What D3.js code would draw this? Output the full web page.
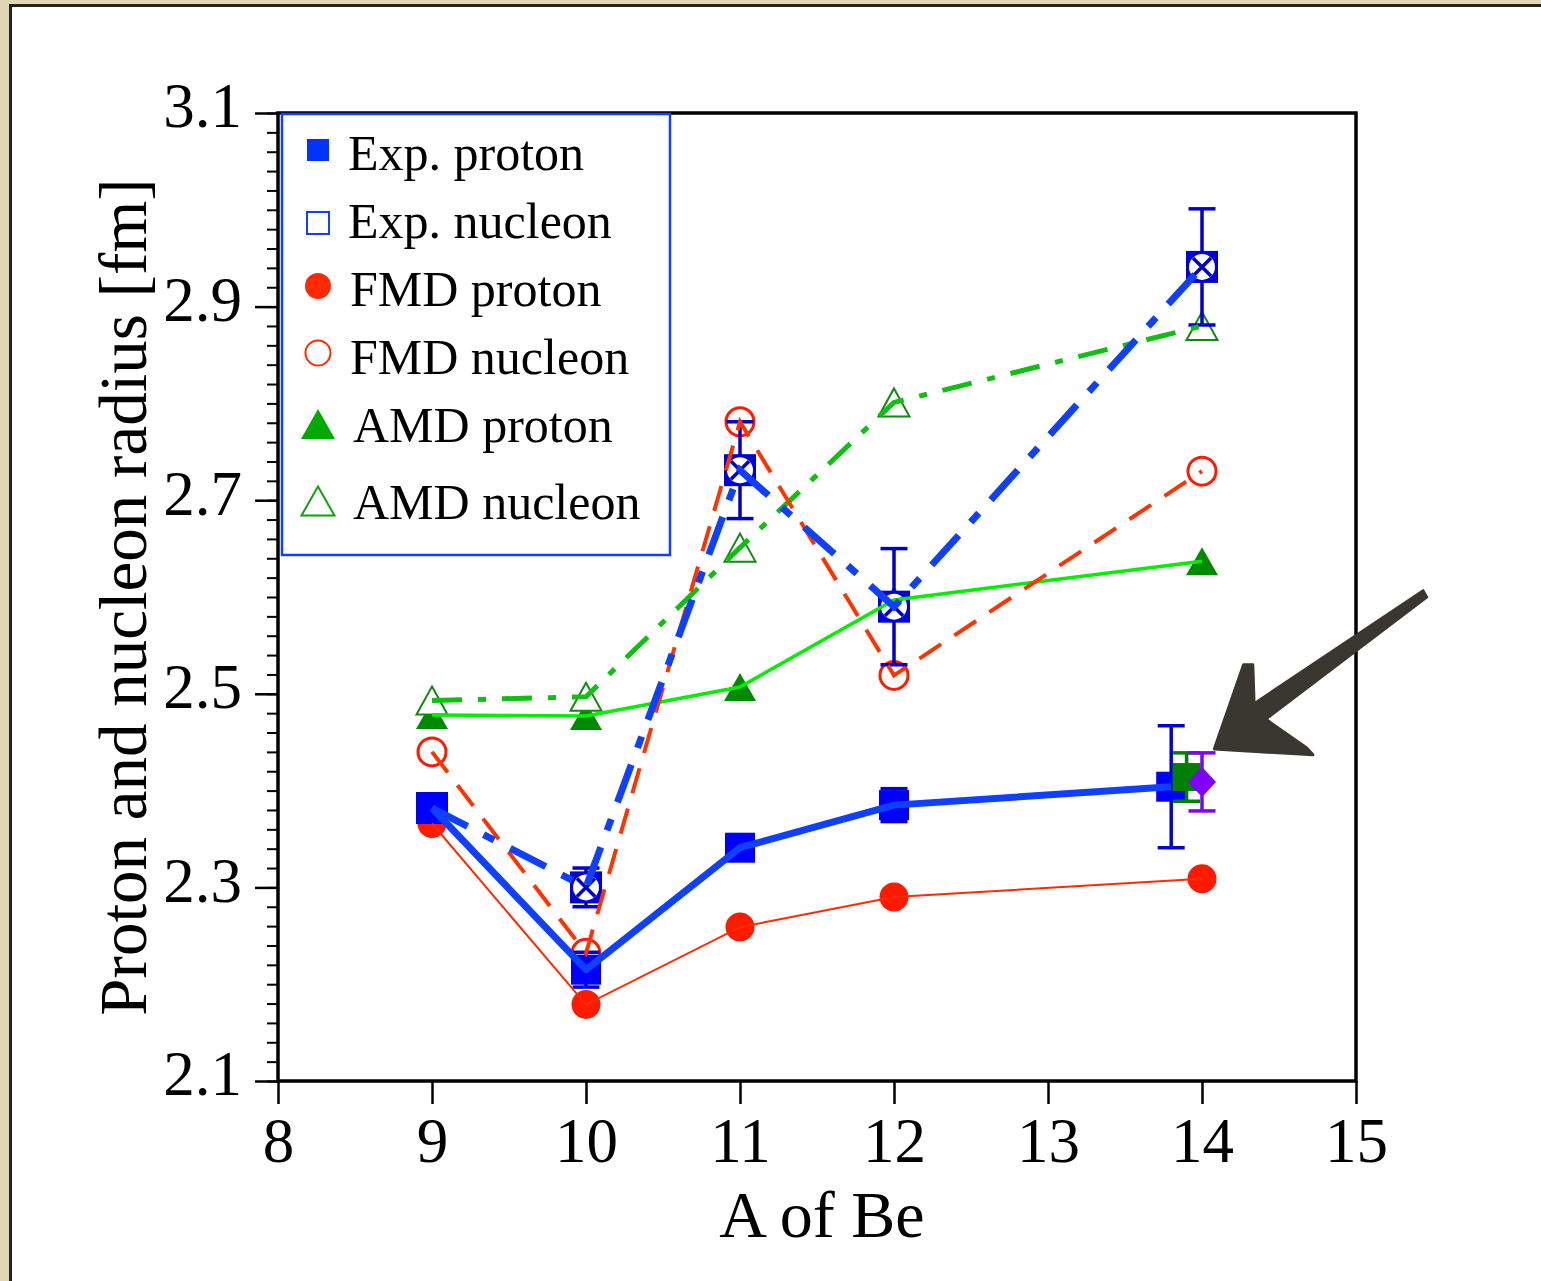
<!DOCTYPE html>
<meta charset="utf-8">
<style>
  body { margin: 0; background: #e1d6b6; }
  text { font-family: "Liberation Serif", "Times New Roman", serif; fill: #000; }
</style>
<body>
<script src="https://d3js.org/d3.v7.min.js"></script>
<script>
  // values
  var massNumbers = [9, 10, 11, 12, 14];
  var expProtonA = [9, 10, 11, 12, 13.8];
  var expProton = [2.382, 2.215, 2.341, 2.385, 2.404];
  var expProtonErr = [0.01, 0.018, 0.012, 0.017, 0.063];
  var expNucleon = [2.382, 2.300, 2.731, 2.590, 2.941];
  var expNucleonErr = [0.012, 0.02, 0.05, 0.06, 0.06];
  var fmdProton = [2.366, 2.179, 2.259, 2.290, 2.309];
  var fmdNucleon = [2.440, 2.232, 2.781, 2.519, 2.730];
  var amdProton = [2.478, 2.477, 2.507, 2.597, 2.637];
  var amdNucleon = [2.493, 2.497, 2.651, 2.801, 2.88];
  // the two extra 14Be points near the arrow
  var extraA = [13.9, 14.0];
  var extraValue = [2.414, 2.409];
  var extraErr = [0.025, 0.03];

  var xTicks = [8, 9, 10, 11, 12, 13, 14, 15];
  var yTicks = [2.1, 2.3, 2.5, 2.7, 2.9, 3.1];
  var legendLabels = ["Exp. proton", "Exp. nucleon", "FMD proton", "FMD nucleon", "AMD proton", "AMD nucleon"];

  var width = 1541, height = 1281;

  var x = d3.scaleLinear().domain([8, 15]).range([278, 1356]);
  var y = d3.scaleLinear().domain([2.1, 3.1]).range([1081, 113]);

  var svg = d3.select("body").append("svg")
    .attr("width", width)
    .attr("height", height)
    .style("display", "block");

  // beige frame and white sheet
  svg.append("rect").attr("width", width).attr("height", height).attr("fill", "#e1d6b6");
  svg.append("rect").attr("x", 10.5).attr("y", 5.5).attr("width", width).attr("height", height)
    .attr("fill", "#fff").attr("stroke", "#222").attr("stroke-width", 3);

  function pts(xs, ys) {
    return xs.map(function(d, i) { return [d, ys[i]]; });
  }

  var line = d3.line()
    .x(function(d) { return x(d[0]); })
    .y(function(d) { return y(d[1]); });

  var marks = svg.append("g");
  var lines = svg.append("g");

  // error bars
  function errorBars(xs, ys, es, color, cap, sw) {
    var g = marks.append("g").attr("stroke", color).attr("stroke-width", sw);
    xs.forEach(function(a, i) {
      var cx = x(a), y0 = y(ys[i] - es[i]), y1 = y(ys[i] + es[i]);
      g.append("line").attr("x1", cx).attr("x2", cx).attr("y1", y0).attr("y2", y1);
      g.append("line").attr("x1", cx - cap / 2).attr("x2", cx + cap / 2).attr("y1", y0).attr("y2", y0);
      g.append("line").attr("x1", cx - cap / 2).attr("x2", cx + cap / 2).attr("y1", y1).attr("y2", y1);
    });
  }

  function triPath(cx, cy, w, h) {
    return "M" + cx + "," + (cy - h / 2) + "L" + (cx + w / 2) + "," + (cy + h / 2) +
      "L" + (cx - w / 2) + "," + (cy + h / 2) + "Z";
  }

  // AMD proton: filled triangles
  marks.selectAll(".amdp").data(pts(massNumbers, amdProton)).enter().append("path")
    .attr("d", function(d) { return triPath(x(d[0]), y(d[1]), 32, 28); })
    .attr("fill", "#008a00");

  // AMD nucleon: open triangles
  marks.selectAll(".amdn").data(pts(massNumbers, amdNucleon)).enter().append("path")
    .attr("d", function(d) { return triPath(x(d[0]), y(d[1]), 31, 28); })
    .attr("fill", "#fff").attr("stroke", "#108a10").attr("stroke-width", 2);

  // FMD proton: filled circles
  marks.selectAll(".fmdp").data(pts(massNumbers, fmdProton)).enter().append("circle")
    .attr("cx", function(d) { return x(d[0]); })
    .attr("cy", function(d) { return y(d[1]); })
    .attr("r", 14.5).attr("fill", "#ff1a00");

  // FMD nucleon: open circles
  marks.selectAll(".fmdn").data(pts(massNumbers, fmdNucleon)).enter().append("circle")
    .attr("cx", function(d) { return x(d[0]); })
    .attr("cy", function(d) { return y(d[1]); })
    .attr("r", 14).attr("fill", "none").attr("stroke", "#ff1a00").attr("stroke-width", 3);

  // Exp. nucleon: square with crossed circle
  errorBars(massNumbers, expNucleon, expNucleonErr, "#0000cc", 27, 3.5);
  var en = marks.selectAll(".expn").data(pts(massNumbers, expNucleon)).enter().append("g")
    .attr("transform", function(d) { return "translate(" + x(d[0]) + "," + y(d[1]) + ")"; });
  en.append("rect").attr("x", -16).attr("y", -16).attr("width", 32).attr("height", 32).attr("fill", "#0000d8");
  en.append("circle").attr("r", 13).attr("fill", "#fff");
  en.append("path").attr("d", "M-9,-9L9,9M9,-9L-9,9").attr("stroke", "#0000cc").attr("stroke-width", 3.5);

  // Exp. proton: filled squares
  errorBars(expProtonA, expProton, expProtonErr, "#0000dd", 27, 3.5);
  marks.selectAll(".expp").data(pts(expProtonA, expProton)).enter().append("rect")
    .attr("x", function(d) { return x(d[0]) - 15; })
    .attr("y", function(d) { return y(d[1]) - 15; })
    .attr("width", 30).attr("height", 30).attr("fill", "#0000ff");

  // extra points: green square and purple diamond
  errorBars([extraA[0]], [extraValue[0]], [extraErr[0]], "#007f00", 27, 3.5);
  marks.append("rect")
    .attr("x", x(extraA[0]) - 14).attr("y", y(extraValue[0]) - 14)
    .attr("width", 28).attr("height", 28).attr("fill", "#007f00");
  errorBars([extraA[1]], [extraValue[1]], [extraErr[1]], "#7f00ff", 27, 3.5);
  marks.append("path")
    .attr("transform", "translate(" + x(extraA[1]) + "," + y(extraValue[1]) + ")")
    .attr("d", "M0,-15L14,0L0,15L-14,0Z").attr("fill", "#7f00ff");

  // lines on top of the markers
  lines.append("path").datum(pts(massNumbers, amdNucleon)).attr("d", line)
    .attr("fill", "none").attr("stroke", "#10c010").attr("stroke-width", 5)
    .attr("stroke-dasharray", "30,16,8,16");
  lines.append("path").datum(pts(massNumbers, amdProton)).attr("d", line)
    .attr("fill", "none").attr("stroke", "#00ee00").attr("stroke-width", 3.5);
  lines.append("path").datum(pts(massNumbers, fmdProton)).attr("d", line)
    .attr("fill", "none").attr("stroke", "#ff2a00").attr("stroke-width", 2);
  lines.append("path").datum(pts(massNumbers, fmdNucleon)).attr("d", line)
    .attr("fill", "none").attr("stroke", "#ff3300").attr("stroke-width", 4)
    .attr("stroke-dasharray", "26,16");
  lines.append("path").datum(pts(massNumbers, expNucleon)).attr("d", line)
    .attr("fill", "none").attr("stroke", "#1040ff").attr("stroke-width", 7)
    .attr("stroke-dasharray", "40,18,12,18");
  lines.append("path").datum(pts(expProtonA, expProton)).attr("d", line)
    .attr("fill", "none").attr("stroke", "#1040ff").attr("stroke-width", 7)
    .attr("stroke-linejoin", "round");

  // axes
  var yMinor = d3.range(2.1, 3.1001, 0.02);
  var yAxisMinor = d3.axisLeft(y).tickValues(yMinor).tickSize(11).tickFormat("");
  svg.append("g").attr("transform", "translate(" + x(8) + ",0)").call(yAxisMinor)
    .call(function(g) { g.select(".domain").remove(); g.selectAll("line").attr("stroke-width", 2); });

  var yAxis = d3.axisLeft(y).tickValues(yTicks).tickSize(23).tickPadding(13)
    .tickFormat(d3.format(".1f"));
  svg.append("g").attr("transform", "translate(" + x(8) + ",0)").call(yAxis)
    .call(function(g) {
      g.select(".domain").remove();
      g.selectAll("line").attr("stroke-width", 2.5);
      g.selectAll("text").attr("font-size", 63).attr("dy", "0.22em")
        .style("font-family", "'Liberation Serif', serif");
    });

  var xAxis = d3.axisBottom(x).tickValues(xTicks).tickSize(23).tickPadding(13)
    .tickFormat(d3.format("d"));
  svg.append("g").attr("transform", "translate(0," + y(2.1) + ")").call(xAxis)
    .call(function(g) {
      g.select(".domain").remove();
      g.selectAll("line").attr("stroke-width", 2.5);
      g.selectAll("text").attr("font-size", 63).attr("dy", "0.72em")
        .style("font-family", "'Liberation Serif', serif");
    });

  // plot frame
  svg.append("rect")
    .attr("x", x(8)).attr("y", y(3.1))
    .attr("width", x(15) - x(8)).attr("height", y(2.1) - y(3.1))
    .attr("fill", "none").attr("stroke", "#000").attr("stroke-width", 3.5);

  // legend
  var legend = svg.append("g");
  legend.append("rect").attr("x", 282).attr("y", 114).attr("width", 388).attr("height", 441)
    .attr("fill", "#fff").attr("stroke", "#1040ff").attr("stroke-width", 2.5);
  var rowY = [153, 221, 289, 357, 425, 502];
  var lx = 318;
  legend.append("rect").attr("x", lx - 11).attr("y", rowY[0] - 14).attr("width", 22).attr("height", 22).attr("fill", "#0033ff");
  legend.append("rect").attr("x", lx - 11).attr("y", rowY[1] - 9).attr("width", 22).attr("height", 22)
    .attr("fill", "none").attr("stroke", "#1040ff").attr("stroke-width", 2);
  legend.append("circle").attr("cx", lx).attr("cy", rowY[2] - 3).attr("r", 13).attr("fill", "#ff2a00");
  legend.append("circle").attr("cx", lx).attr("cy", rowY[3] - 4).attr("r", 12.5)
    .attr("fill", "none").attr("stroke", "#ff2a00").attr("stroke-width", 2);
  legend.append("path").attr("d", triPath(lx, rowY[4] - 1, 34, 30)).attr("fill", "#00aa00");
  legend.append("path").attr("d", triPath(lx, rowY[5] - 1, 33, 29))
    .attr("fill", "none").attr("stroke", "#10a010").attr("stroke-width", 2);
  legend.selectAll(".lab").data(legendLabels).enter().append("text")
    .attr("x", function(d, i) { return i < 2 ? 348 : (i < 4 ? 350 : 353); })
    .attr("y", function(d, i) { return rowY[i] + 17; })
    .attr("font-size", 50)
    .text(function(d) { return d; });

  // axis titles
  svg.append("text").attr("x", (x(8) + x(15)) / 2 + 5).attr("y", 1237)
    .attr("text-anchor", "middle").attr("font-size", 66).text("A of Be");
  svg.append("text")
    .attr("transform", "translate(146," + 597 + ") rotate(-90)")
    .attr("text-anchor", "middle").attr("font-size", 67).text("Proton and nucleon radius [fm]");

  // hand-drawn arrow pointing at the 14Be points
  var arrow = svg.append("g").attr("fill", "#3a3730").attr("stroke", "#3a3730").attr("stroke-linejoin", "round");
  function P(a, v) { return [x(a), y(v)]; }
  var tail = P(15.45, 2.604), neck = P(14.32, 2.476);
  var head = [P(14.08, 2.443), P(14.27, 2.530), P(14.33, 2.530), P(14.34, 2.482),
    P(14.68, 2.444), P(14.72, 2.437)];
  arrow.append("path").attr("d", d3.line()(head) + "Z").attr("stroke-width", 3);
  var nx = neck[0], ny = neck[1], tx = tail[0], ty = tail[1];
  arrow.append("path")
    .attr("d", "M" + (nx - 3) + "," + (ny - 10) + "L" + (tx - 2) + "," + (ty - 3) + "L" + (tx + 2) + "," + (ty + 4) +
      "L" + (nx + 5) + "," + (ny + 10) + "Z")
    .attr("stroke-width", 2);
  arrow.append("path")
    .attr("d", "M" + (nx + 10) + "," + (ny - 15) + "L" + (tx - 6) + "," + (ty + 8))
    .attr("fill", "none").attr("stroke-width", 1.5).attr("opacity", 0.6);
</script>
</body>
